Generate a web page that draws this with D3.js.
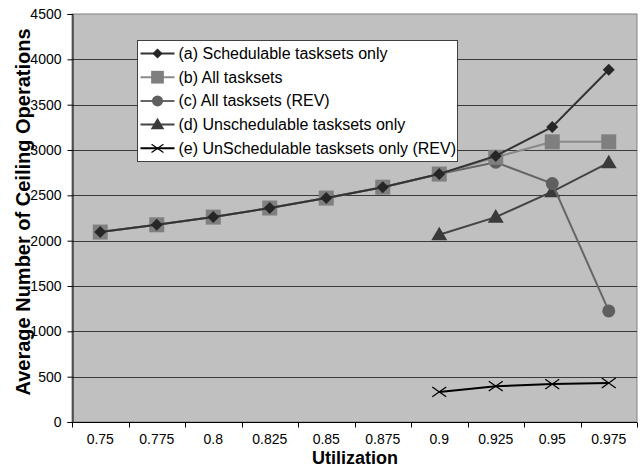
<!DOCTYPE html>
<html>
<head>
<meta charset="utf-8">
<script src="https://cdn.jsdelivr.net/npm/d3@7/dist/d3.min.js"></script>
<style>
  body { margin: 0; background: #fff; }
  svg text { font-family: "Liberation Sans", Arial, sans-serif; }
</style>
</head>
<body>
<svg id="chart" width="644" height="468"></svg>
<script>
// categories on the x axis
var utilization = ['0.75', '0.775', '0.8', '0.825', '0.85', '0.875', '0.9', '0.925', '0.95', '0.975'];
var yTicks = [0, 500, 1000, 1500, 2000, 2500, 3000, 3500, 4000, 4500];

// series values (null = no point)
var schedOnly  = [2095, 2175, 2260, 2360, 2470, 2590, 2735, 2935, 3255, 3885];
var allSets    = [2095, 2175, 2260, 2360, 2470, 2590, 2735, 2920, 3090, 3090];
var allSetsRev = [2095, 2175, 2260, 2360, 2470, 2590, 2735, 2865, 2630, 1225];
var unschedOnly    = [null, null, null, null, null, null, 2065, 2260, 2540, 2860];
var unschedOnlyRev = [null, null, null, null, null, null, 332, 395, 418, 430];

var seriesNames = [
  '(a) Schedulable tasksets only',
  '(b) All tasksets',
  '(c) All tasksets (REV)',
  '(d) Unschedulable tasksets only',
  '(e) UnSchedulable tasksets only (REV)'
];

var series = [
  { name: seriesNames[0], values: schedOnly, line: '#333333', fill: '#262626', shape: 'diamond' },
  { name: seriesNames[1], values: allSets, line: '#8a8a8a', fill: '#7f7f7f', shape: 'square' },
  { name: seriesNames[2], values: allSetsRev, line: '#666666', fill: '#5f5f5f', shape: 'circle' },
  { name: seriesNames[3], values: unschedOnly, line: '#444444', fill: '#3a3a3a', shape: 'triangle' },
  { name: seriesNames[4], values: unschedOnlyRev, line: '#000000', fill: '#000000', shape: 'cross' }
];

var svg = d3.select('#chart');
var margin = { top: 14, right: 7, bottom: 46, left: 72 };
var width = 644 - margin.left - margin.right;
var height = 468 - margin.top - margin.bottom;

var x = d3.scaleBand().domain(utilization).range([0, width]);
var y = d3.scaleLinear().domain([0, 4500]).range([height, 0]);

var g = svg.append('g').attr('transform', 'translate(' + margin.left + ',' + margin.top + ')');

// plot area
g.append('rect')
  .attr('width', width).attr('height', height)
  .attr('fill', '#c0c0c0').attr('stroke', '#808080').attr('stroke-width', 1);

// gridlines
g.selectAll('.grid').data(yTicks.slice(1, -1)).enter().append('line')
  .attr('x1', 0).attr('x2', width)
  .attr('y1', function (d) { return Math.round(y(d)) + 0.5; })
  .attr('y2', function (d) { return Math.round(y(d)) + 0.5; })
  .attr('stroke', '#3a3a3a').attr('stroke-width', 1);

// y axis
var yAxis = g.append('g').attr('transform', 'translate(0.5,0)')
  .call(d3.axisLeft(y).tickValues(yTicks).tickFormat(d3.format('d')).tickSize(5).tickPadding(6));
yAxis.select('.domain').attr('stroke', '#000');
yAxis.selectAll('text').attr('font-size', 14).attr('fill', '#000')
  .style('font-family', '"Liberation Sans", Arial, sans-serif');

// x axis with ticks between categories
var xAxis = g.append('g').attr('transform', 'translate(0,' + (height + 0.5) + ')');
xAxis.append('line').attr('x1', 0).attr('x2', width).attr('stroke', '#000');
var bounds = utilization.map(function (d) { return x(d); }).concat([width]);
xAxis.selectAll('.xt').data(bounds).enter().append('line')
  .attr('x1', function (d) { return Math.round(d) + 0.5; })
  .attr('x2', function (d) { return Math.round(d) + 0.5; })
  .attr('y1', 0).attr('y2', 5).attr('stroke', '#000');
xAxis.selectAll('.xl').data(utilization).enter().append('text')
  .attr('x', function (d) { return x(d) + x.bandwidth() / 2; })
  .attr('y', 21)
  .attr('text-anchor', 'middle')
  .attr('font-size', 14)
  .text(function (d) { return d; });

// axis titles
svg.append('text')
  .attr('x', 355).attr('y', 464)
  .attr('text-anchor', 'middle')
  .attr('font-size', 18).attr('font-weight', 'bold')
  .text('Utilization');

svg.append('text')
  .attr('transform', 'translate(30,212) rotate(-90)')
  .attr('text-anchor', 'middle')
  .attr('font-size', 20).attr('font-weight', 'bold')
  .text('Average Number of Ceiling Operations');

function drawMarker(sel, s, cx, cy, scale) {
  var k = scale || 1;
  if (s.shape === 'diamond') {
    var r = 6 * k;
    sel.append('path').attr('d', 'M' + cx + ',' + (cy - r) + 'L' + (cx + r) + ',' + cy + 'L' + cx + ',' + (cy + r) + 'L' + (cx - r) + ',' + cy + 'Z')
      .attr('fill', s.fill);
  } else if (s.shape === 'square') {
    var h = 7.5 * k;
    sel.append('rect').attr('x', cx - h).attr('y', cy - h).attr('width', 2 * h).attr('height', 2 * h).attr('fill', s.fill);
  } else if (s.shape === 'circle') {
    sel.append('circle').attr('cx', cx).attr('cy', cy).attr('r', 6.5 * k).attr('fill', s.fill);
  } else if (s.shape === 'triangle') {
    var t = 8 * k;
    sel.append('path').attr('d', 'M' + cx + ',' + (cy - t) + 'L' + (cx + t) + ',' + (cy + t * 0.7) + 'L' + (cx - t) + ',' + (cy + t * 0.7) + 'Z')
      .attr('fill', s.fill);
  } else {
    var c = 7 * k;
    sel.append('path').attr('d', 'M' + (cx - c) + ',' + (cy - c * 0.7) + 'L' + (cx + c) + ',' + (cy + c * 0.7) + 'M' + (cx - c) + ',' + (cy + c * 0.7) + 'L' + (cx + c) + ',' + (cy - c * 0.7))
      .attr('stroke', s.fill).attr('stroke-width', 1.2).attr('fill', 'none');
  }
}

var line = d3.line()
  .defined(function (d) { return d.v !== null; })
  .x(function (d) { return x(d.u) + x.bandwidth() / 2; })
  .y(function (d) { return y(d.v); });

// draw in reverse legend order so (a) ends on top like the original
var order = [4, 3, 2, 1, 0];
order.forEach(function (i) {
  var s = series[i];
  var pts = utilization.map(function (u, k) { return { u: u, v: s.values[k] }; });
  var sg = g.append('g');
  sg.append('path').datum(pts).attr('d', line)
    .attr('fill', 'none').attr('stroke', s.line).attr('stroke-width', 2);
  pts.forEach(function (p) {
    if (p.v === null) return;
    drawMarker(sg, s, x(p.u) + x.bandwidth() / 2, y(p.v));
  });
});

// legend
var lg = svg.append('g').attr('transform', 'translate(137.5,40.5)');
lg.append('rect').attr('width', 320).attr('height', 121)
  .attr('fill', '#fff').attr('stroke', '#404040').attr('stroke-width', 1);
series.forEach(function (s, i) {
  var yy = 13 + i * 23.7;
  lg.append('line').attr('x1', 3).attr('x2', 37).attr('y1', yy).attr('y2', yy)
    .attr('stroke', s.line).attr('stroke-width', 2);
  drawMarker(lg, s, 20, yy, 0.85);
  lg.append('text').attr('x', 41).attr('y', yy + 5.5)
    .attr('font-size', 16).text(s.name);
});
</script>
</body>
</html>
